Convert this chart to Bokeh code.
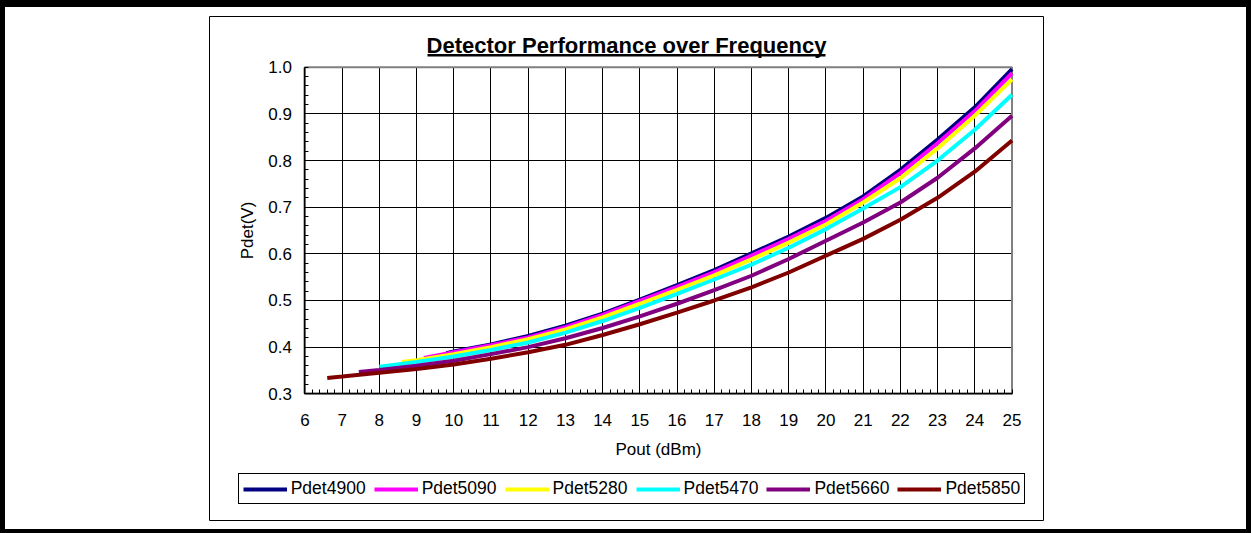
from bokeh.plotting import figure
from bokeh.models import (Legend, LegendItem, FixedTicker, NumeralTickFormatter,
                          Range1d, InlineStyleSheet, BoxAnnotation, Label)
from bokeh.embed import file_html
from bokeh.resources import INLINE

# ---------------- data ----------------
x_ticks = list(range(6, 26))
y_ticks = [0.3, 0.4, 0.5, 0.6, 0.7, 0.8, 0.9, 1.0]

series_names = ["Pdet4900", "Pdet5090", "Pdet5280", "Pdet5470", "Pdet5660", "Pdet5850"]
series_colors = ["#000080", "#FF00FF", "#FFFF00", "#00FFFF", "#800080", "#800000"]

x4900 = [9.8] + list(range(10, 26))
y4900 = [0.387, 0.391, 0.406, 0.424, 0.446, 0.472, 0.502, 0.533, 0.565, 0.601,
         0.637, 0.677, 0.723, 0.780, 0.845, 0.914, 0.996]

x5090 = [9.2] + list(range(10, 26))
y5090 = [0.377, 0.389, 0.404, 0.421, 0.443, 0.469, 0.499, 0.529, 0.561, 0.596,
         0.632, 0.671, 0.717, 0.773, 0.837, 0.906, 0.987]

x5280 = [8.6] + list(range(9, 26))
y5280 = [0.368, 0.372, 0.385, 0.400, 0.417, 0.438, 0.464, 0.493, 0.523, 0.554,
         0.588, 0.624, 0.663, 0.710, 0.762, 0.826, 0.896, 0.974]

x5470 = [8.0] + list(range(9, 26))
y5470 = [0.358, 0.368, 0.380, 0.394, 0.410, 0.431, 0.456, 0.484, 0.514, 0.545,
         0.577, 0.613, 0.653, 0.697, 0.743, 0.800, 0.866, 0.941]

x5660 = [7.45] + list(range(8, 26))
y5660 = [0.347, 0.351, 0.360, 0.371, 0.385, 0.400, 0.419, 0.441, 0.466, 0.493,
         0.522, 0.553, 0.589, 0.628, 0.667, 0.710, 0.763, 0.826, 0.896]

x5850 = [6.6] + list(range(7, 26))
y5850 = [0.334, 0.337, 0.345, 0.353, 0.363, 0.375, 0.389, 0.405, 0.426, 0.449,
         0.474, 0.500, 0.528, 0.560, 0.596, 0.632, 0.673, 0.720, 0.776, 0.843]

series_x = [x4900, x5090, x5280, x5470, x5660, x5850]
series_y = [y4900, y5090, y5280, y5470, y5660, y5850]

title_text = "Detector Performance over Frequency"
x_label = "Pout (dBm)"
y_label = "Pdet(V)"
X_MIN, X_MAX = 6, 25
Y_MIN, Y_MAX = 0.3, 1.0

# ---------------- layout constants (pixels) ----------------
W, H = 1251, 533
FONT = "Liberation Sans"
FL, FR, FT, FB = 209, 1043, 16, 520          # chart-area box = Bokeh frame
PX_XMIN, PX_XMAX = 304.4, 1011.5             # where x=6 and x=25 fall
PX_YMAX, PX_YMIN = 66.7, 393.3               # where y=1.0 and y=0.3 fall

ux = (PX_XMAX - PX_XMIN) / (X_MAX - X_MIN)
uy = (PX_YMIN - PX_YMAX) / (Y_MAX - Y_MIN)


def px_x(px):
    return X_MIN + (px - PX_XMIN) / ux


def px_y(py):
    return Y_MIN + (PX_YMIN - py) / uy


x_range = Range1d(px_x(FL), px_x(FR))
y_range = Range1d(px_y(FB), px_y(FT))

p = figure(width=W, height=H, output_backend="svg", toolbar_location=None,
           x_range=x_range, y_range=y_range,
           min_border_left=FL, min_border_right=W - FR,
           min_border_top=FT, min_border_bottom=H - FB)
p.background_fill_color = "white"
p.border_fill_color = "white"
p.outline_line_color = "black"
p.outline_line_width = 1

# axes sit at the data edges of the plotting area
p.xaxis.fixed_location = Y_MIN
p.yaxis.fixed_location = X_MIN
p.xaxis.bounds = (X_MIN, X_MAX)
p.yaxis.bounds = (Y_MIN, Y_MAX)
p.xaxis.ticker = FixedTicker(ticks=x_ticks, minor_ticks=[6 + 0.2 * i for i in range(96)])
p.yaxis.ticker = FixedTicker(ticks=y_ticks, minor_ticks=[0.3 + 0.02 * i for i in range(36)])
p.yaxis.formatter = NumeralTickFormatter(format="0.0")

p.xgrid.cross_bounds = (Y_MIN, Y_MAX)
p.ygrid.cross_bounds = (X_MIN, X_MAX)
p.grid.grid_line_color = "black"
p.grid.grid_line_width = 1

# grey border of the plotting area
p.add_layout(BoxAnnotation(left=X_MIN, right=X_MAX, bottom=Y_MIN, top=Y_MAX,
                           fill_alpha=0, line_color="#808080", line_width=2,
                           line_alpha=1, level="underlay"))

for ax in (p.xaxis[0], p.yaxis[0]):
    ax.axis_line_color = "black"
    ax.axis_line_width = 1.5
    ax.major_tick_in = 0
    ax.major_tick_out = 0
    ax.minor_tick_in = 4
    ax.minor_tick_out = 0
    ax.minor_tick_line_color = "black"
    ax.major_label_text_font = FONT
    ax.major_label_text_font_size = "17px"
    ax.major_label_text_color = "black"
    ax.axis_label_text_font = FONT
    ax.axis_label_text_font_size = "17px"
    ax.axis_label_text_font_style = "normal"
    ax.axis_label_text_color = "black"

p.xaxis.axis_label = x_label
p.yaxis.axis_label = y_label
p.xaxis.major_label_standoff = 20
p.xaxis.axis_label_standoff = 11
p.yaxis.major_label_standoff = 13
p.yaxis.axis_label_standoff = 8

renderers = []
for xs, ys, c in zip(series_x, series_y, series_colors):
    r = p.line(xs, ys, line_color=c, line_width=4)
    renderers.append(r)

legend = Legend(items=[LegendItem(label=n, renderers=[r]) for n, r in zip(series_names, renderers)],
                orientation="horizontal", location=(237.7 - FL, FB - 504.3),
                glyph_width=44, glyph_height=18, label_standoff=4, spacing=8,
                padding=4, margin=0,
                border_line_color="black", border_line_width=1, border_line_alpha=1,
                background_fill_color="white", background_fill_alpha=1,
                label_text_font=FONT, label_text_font_size="17.5px", label_text_color="black")
p.add_layout(legend)

# title with underline (placed through the plot's own scales)
p.add_layout(Label(x=px_x(626), y=px_y(44.5),
                   text=title_text, text_font=FONT, text_font_style="bold",
                   text_font_size="22px", text_color="black",
                   text_align="center", text_baseline="alphabetic"))
p.add_layout(BoxAnnotation(left=px_x(427), right=px_x(825), top=px_y(53.5), bottom=px_y(56),
                           fill_color="black", fill_alpha=1, line_color=None))

# black page frame as a CSS overlay
css = """
:host { position: relative; }
:host::before {
  content: ""; position: absolute; left: 0; top: 0; width: 1251px; height: 533px;
  box-sizing: border-box; border-style: solid; border-color: black;
  border-width: 7px 5px 4px 5px; pointer-events: none; z-index: 10;
}
"""
p.stylesheets = [InlineStyleSheet(css=css)]

open("out.html", "w").write(file_html(p, INLINE))
